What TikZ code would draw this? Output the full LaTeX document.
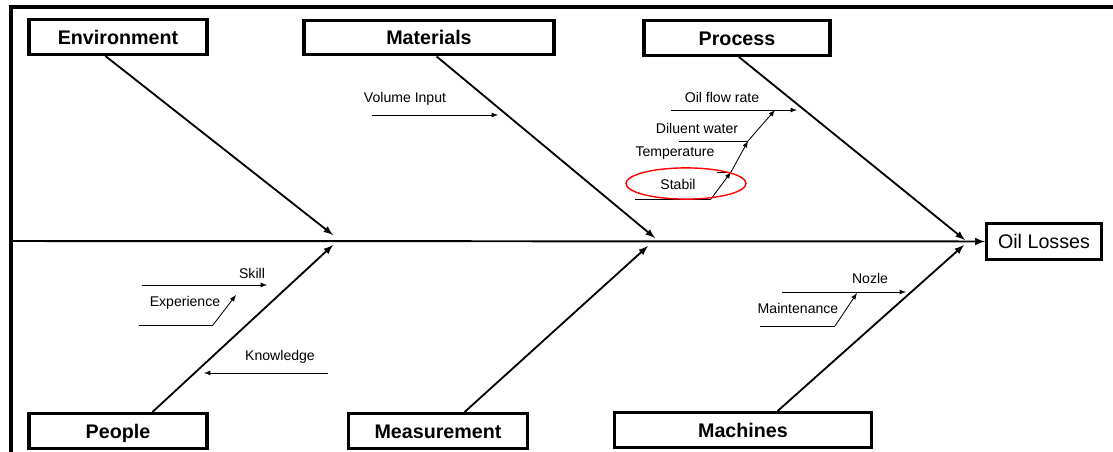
\documentclass[tikz,border=0pt]{standalone}
\usepackage{fontspec}
\setmainfont{Liberation Sans}
\usetikzlibrary{calc}

\begin{document}
\begin{tikzpicture}[x=0.025cm,y=-0.025cm,
    cause/.style={draw,line width=2.2pt,inner sep=0pt,minimum height=0.87cm,
        text height=10pt,text depth=0pt,
        font=\bfseries\fontsize{14}{16}\selectfont},
    bone/.style={line width=1.3pt,-latex},
    sub/.style={line width=0.6pt},
    lbl/.style={inner sep=1pt,font=\fontsize{10}{12}\selectfont}]
    \useasboundingbox (0,0) rectangle (1113,452);
    % frame
    \draw[line width=2.4pt] (11,452) -- (11,7) -- (1113,7);
    % cause boxes
    \node[cause,minimum width=4.45cm] (env) at (118,37) {Environment};
    \node[cause,minimum width=6.25cm] (mat) at (429,37.5) {Materials};
    \node[cause,minimum width=4.65cm] (proc) at (737,38) {Process};
    \node[cause,minimum width=4.45cm] (ppl) at (118,431) {People};
    \node[cause,minimum width=4.47cm] (meas) at (438,431) {Measurement};
    \node[cause,minimum width=6.42cm] (mach) at (743,430) {Machines};
    \node[draw,line width=2.2pt,minimum width=2.87cm,minimum height=0.9cm,
        font=\fontsize{14}{16}\selectfont] (oil) at (1044,241.5) {Oil Losses};
    % spine
    \coordinate (S) at (11,241);
    \draw[line width=1.4pt,-latex] (S) -- (oil.west);
    % bones
    \coordinate (envT) at (333,235);
    \coordinate (matT) at (655,238);
    \coordinate (procT) at (965,240);
    \coordinate (pplT) at (333,245);
    \coordinate (measT) at (648,246);
    \coordinate (machT) at (964,245);
    \draw[bone] ($(env.south west)!0.43!(env.south east)$) -- (envT);
    \draw[bone] ($(mat.south west)!0.53!(mat.south east)$) -- (matT);
    \draw[bone] ($(proc.south west)!0.51!(proc.south east)$) -- (procT);
    \draw[bone] ($(ppl.north west)!0.69!(ppl.north east)$) -- (pplT);
    \draw[bone] ($(meas.north west)!0.646!(meas.north east)$) -- (measT);
    \draw[bone] ($(mach.north west)!0.633!(mach.north east)$) -- (machT);
    % sub causes
    \coordinate (volA) at (372,115);  \coordinate (volB) at (498,115);
    \coordinate (oilA) at (671,110);  \coordinate (oilB) at (797,110);
    \coordinate (oilC) at (775,110);
    \coordinate (dilA) at (679,141);  \coordinate (dilB) at (748,141);
    \coordinate (tmpA) at (717,172);  \coordinate (tmpB) at (731,172);
    \coordinate (stbA) at (635,199);  \coordinate (stbB) at (711,199);
    \coordinate (skA) at (142,285);   \coordinate (skB) at (267,285);
    \coordinate (expA) at (139,325);  \coordinate (expB) at (213,325);
    \coordinate (expC) at (236,295);
    \coordinate (knA) at (328,373);   \coordinate (knB) at (204,373);
    \coordinate (nzA) at (782,292);   \coordinate (nzB) at (906,292);
    \coordinate (mtA) at (760,326);   \coordinate (mtB) at (835,326);
    \coordinate (mtC) at (857,293);
    \foreach \a/\b in {volA/volB,oilA/oilB,skA/skB,knA/knB,nzA/nzB,
                       stbB/tmpB,tmpB/dilB,dilB/oilC,expB/expC,mtB/mtC}
        \draw[sub,-latex] (\a) -- (\b);
    \foreach \a/\b in {dilA/dilB,tmpA/tmpB,stbA/stbB,expA/expB,mtA/mtB}
        \draw[sub] (\a) -- (\b);
    % labels
    \node[lbl] (vol) at (405,99) {Volume Input};
    \node[lbl] (ofr) at (722,97) {Oil flow rate};
    \node[lbl] (dil) at (697,128) {Diluent water};
    \node[lbl] (tmp) at (675,153) {Temperature};
    \node[lbl] (stb) at (678,184) {Stabil};
    \node[lbl] (sk) at (252,273) {Skill};
    \node[lbl] (exp) at (185,303) {Experience};
    \node[lbl] (kn) at (280,357) {Knowledge};
    \node[lbl] (nz) at (870,278) {Nozle};
    \node[lbl] (mt) at (798,308) {Maintenance};
    % highlight
    \draw[red,line width=1pt] (686,183.5) ellipse [x radius=1.5cm,y radius=0.39cm];
\end{tikzpicture}
\end{document}
